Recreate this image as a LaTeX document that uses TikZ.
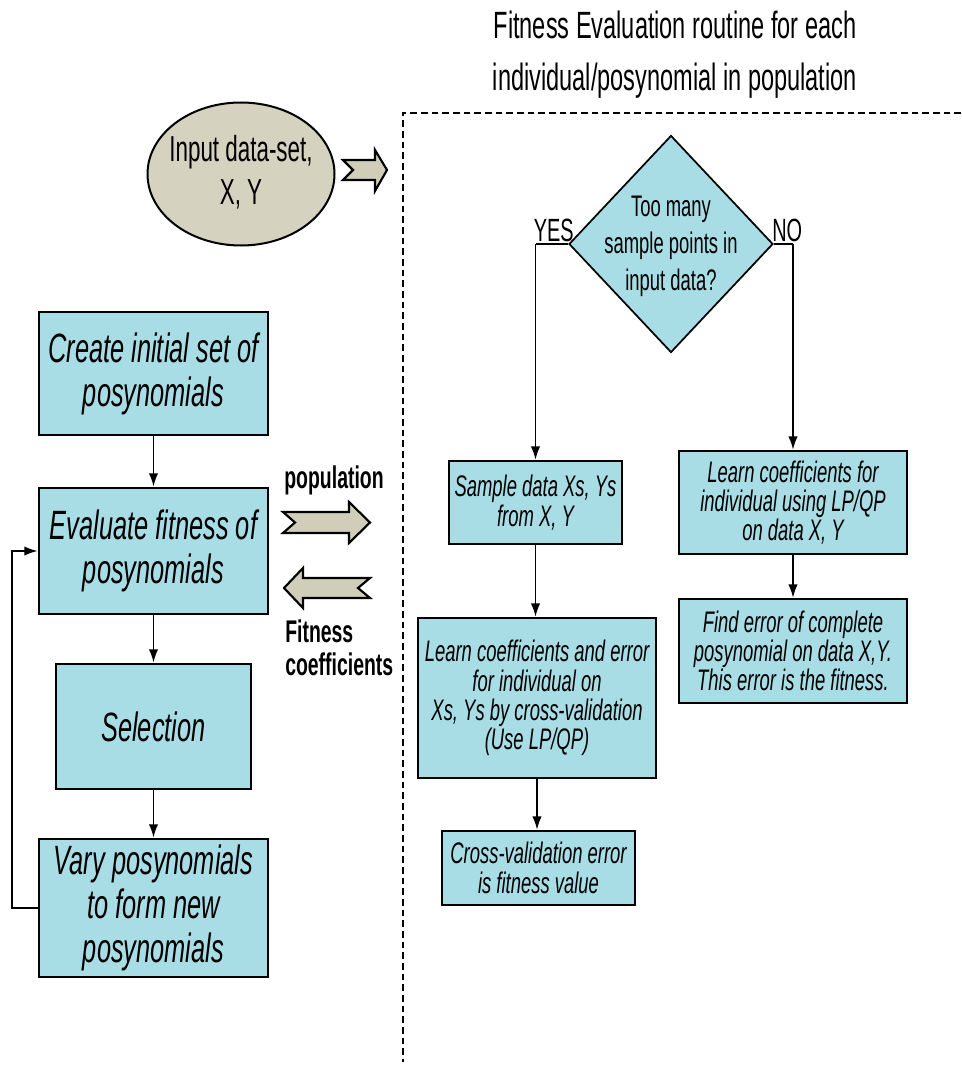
\documentclass[tikz,border=0pt]{standalone}
\usepackage{fontspec}
\setmainfont[FakeStretch=0.62]{Liberation Sans}
\usetikzlibrary{shapes.geometric,arrows.meta}
\definecolor{boxblue}{RGB}{168,221,230}
\definecolor{beige}{RGB}{214,210,192}
\definecolor{arrowfill}{RGB}{208,206,184}
\newcommand{\fsz}[2]{\fontsize{#1}{#2}\selectfont}
\begin{document}
\begin{tikzpicture}[x=0.75pt,y=-0.75pt,
  wh/.style 2 args={minimum width=#1*0.75pt,minimum height=#2*0.75pt},
  lbox/.style={draw=black,line width=2pt,fill=boxblue,align=center,inner sep=0pt,font=\fsz{30.7}{33}\itshape},
  rbox/.style={draw=black,line width=1.8pt,fill=boxblue,align=center,inner sep=0pt,font=\fsz{22.3}{22}\itshape},
  conn/.style={line width=1.3pt,-{Latex[length=10pt,width=7pt]}},
  plainline/.style={line width=1.3pt},
  blockarrow/.style={draw=black,line width=1.6pt,fill=arrowfill,line join=miter},
  lbl/.style={font=\fsz{24.1}{26},inner sep=0pt},
  framestyle/.style={line width=0.9pt,dash pattern=on 5pt off 3pt}]
\useasboundingbox (0,0) rectangle (961,1066);

% title
\node[font=\fsz{28.5}{39},align=center] (title) at (675,55) {Fitness Evaluation routine for each\\individual/posynomial in population};

% dashed frame
\draw[framestyle] (961,113) -- (403,113) -- (403,1062);

% input ellipse
\node[draw,ellipse,line width=1.5pt,fill=beige,inner sep=0pt,wh={187}{143}] (input) at (241,174) {};
\node[font=\fsz{27.1}{32},align=center] (inputtxt) at (241,172) {Input data-set,\\X, Y};

% small block arrow
\draw[blockarrow] (343,160) -- (353,170) -- (343,180) -- (375,180) -- (375,191) -- (387,170) -- (375,150) -- (375,160) -- cycle;

% left column
\node[lbox,wh={229}{123}] (create) at (153.5,373.5) {Create initial set of\\posynomials};
\node[lbox,wh={229}{126}] (eval) at (153.5,551) {Evaluate fitness of\\posynomials};
\node[lbox,wh={195}{125}] (sel) at (153.5,726.5) {Selection};
\node[lbox,wh={229}{138}] (vary) at (153.5,908) {Vary posynomials\\to form new\\posynomials};

\draw[conn] (create) -- (eval);
\draw[conn] (eval) -- (sel);
\draw[conn] (sel) -- (vary);
\draw[conn] (vary.west) -- ++(-26,0) |- (eval.west);

% population / fitness arrows
\node[font=\fsz{23.5}{25}\bfseries] (pop) at (334,480) {population};
\draw[blockarrow] (283,512) -- (295,522.5) -- (283,533) -- (349,533) -- (349,543) -- (370,522.5) -- (349,502) -- (349,512) -- cycle;
\draw[blockarrow] (284,588) -- (303,568) -- (303,578) -- (370,578) -- (358,588) -- (370,598) -- (303,598) -- (303,608) -- cycle;
\node[font=\fsz{23.5}{25}\bfseries,align=left,anchor=west,inner sep=0pt] (fit) at (285,648) {Fitness\\coefficients};

% decision
\node[draw,diamond,line width=1.3pt,fill=boxblue,inner sep=0pt,wh={204}{217}] (q) at (671,244) {};
\node[font=\fsz{22.3}{27.7},align=center] (qt) at (671,246) {Too many\\sample points in\\input data?};
\node[lbl,anchor=base east] (yes) at (574,242) {YES};
\node[lbl,anchor=base west] (no) at (772,242) {NO};

% right column
\node[rbox,wh={173}{83}] (sample) at (535.5,502.5) {Sample data Xs, Ys\\from X, Y};
\node[rbox,wh={238}{160}] (cv) at (537,698) {Learn coefficients and error\\for individual on\\Xs, Ys by cross-validation\\(Use LP/QP)};
\node[rbox,wh={193}{74}] (cross) at (538.5,868) {Cross-validation error\\is fitness value};
\node[rbox,wh={228}{103}] (lp) at (793,502.5) {Learn coefficients for\\individual using LP/QP\\on data X, Y};
\node[rbox,wh={228}{104}] (find) at (793,651) {Find error of complete\\posynomial on data X,Y.\\This error is the fitness.};

\draw[plainline] (q.west) -- (sample.north |- q.west);
\draw[conn] (sample.north |- q.west) -- (sample.north);
\draw[plainline] (q.east) -- (lp.north |- q.east);
\draw[conn] (lp.north |- q.east) -- (lp.north);
\draw[conn] (sample.south) -- (sample.south |- cv.north);
\draw[conn] (cv.south) -- (cv.south |- cross.north);
\draw[conn] (lp) -- (find);
\end{tikzpicture}
\end{document}
